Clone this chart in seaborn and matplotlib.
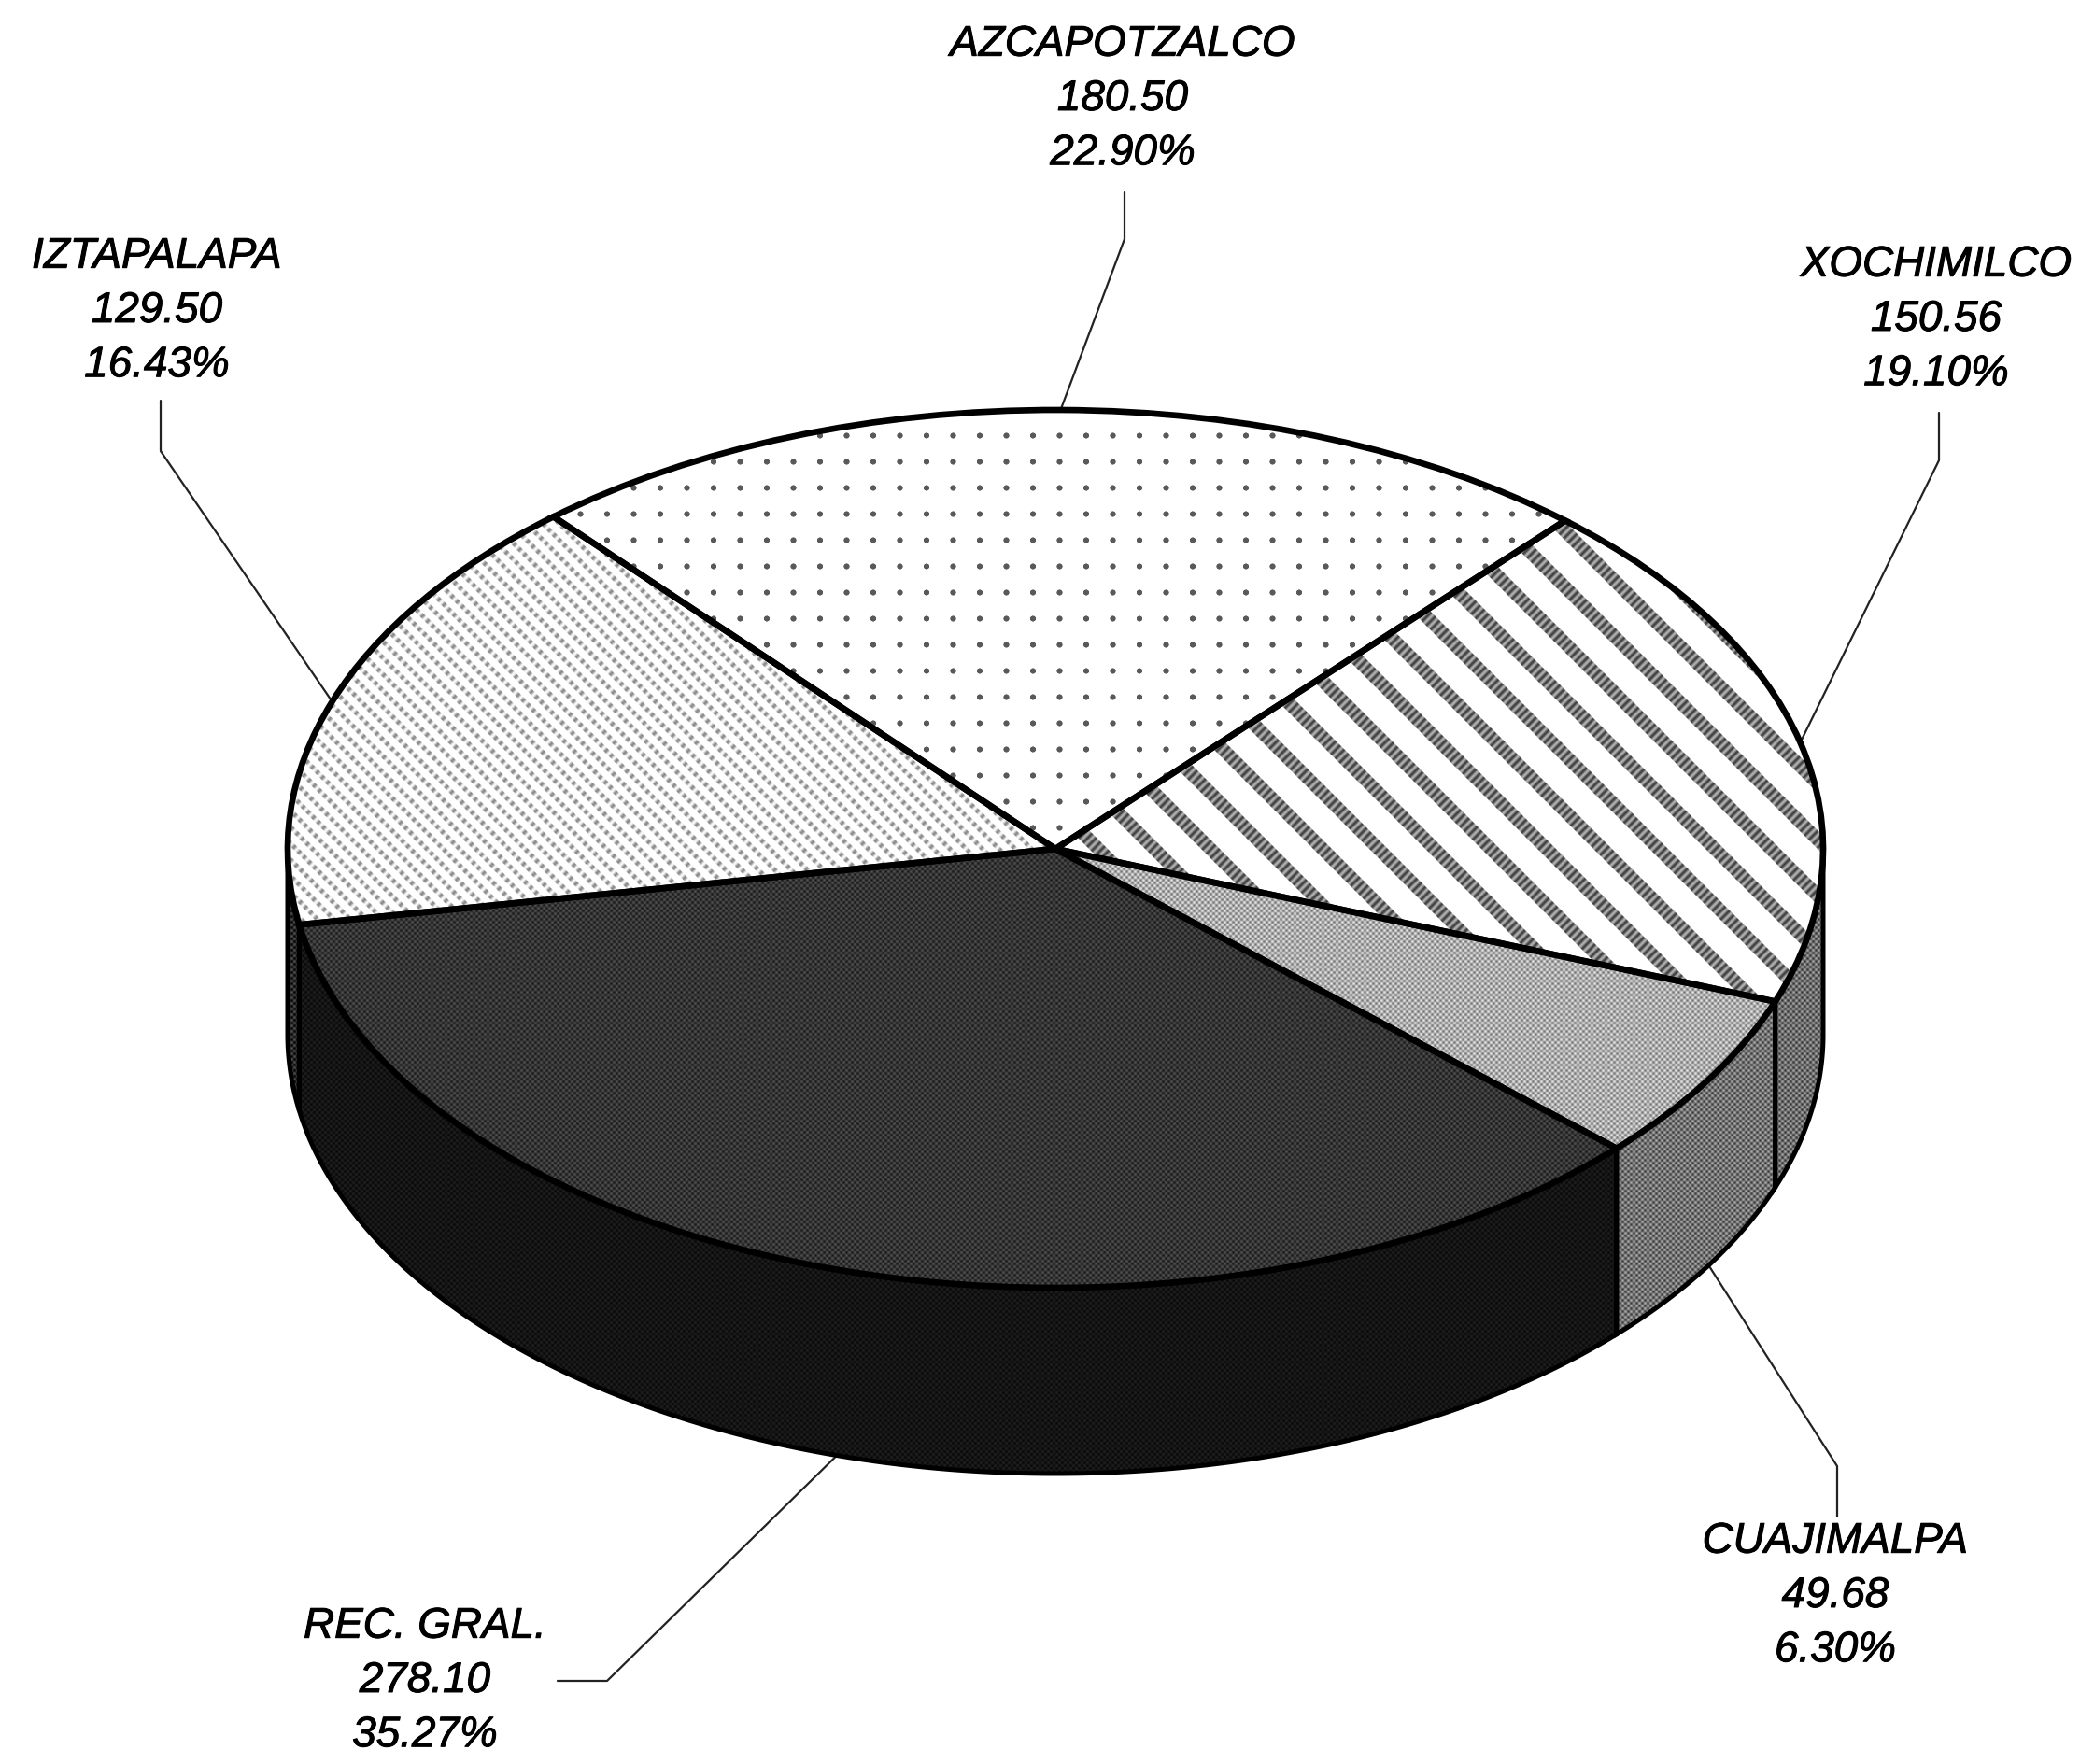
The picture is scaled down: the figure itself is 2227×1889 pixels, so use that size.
import numpy as np
import seaborn as sns
import matplotlib.pyplot as plt
import matplotlib.patheffects as pe
from matplotlib.patches import Polygon

sns.set_style('white')
plt.rcParams['font.family'] = ['Liberation Sans', 'DejaVu Sans']

names = ['AZCAPOTZALCO', 'IZTAPALAPA', 'REC. GRAL.', 'CUAJIMALPA', 'XOCHIMILCO']
values = [180.50, 129.50, 278.10, 49.68, 150.56]
percents = [22.90, 16.43, 35.27, 6.30, 19.10]

W, H = 2227, 1889
CX, CY = 1130, 909     # centre of the top ellipse, px
A, B = 822, 470        # ellipse half axes, px
DEPTH = 199 / B        # wall height in pie units
START = 48.4


def to_data(px, py):
    return (px - CX) / A, (CY - py) / B


yy, xx = np.mgrid[0:H, 0:W].astype(float)


def halftone(level, amp, period=6.0):
    return level + amp * np.cos(2 * np.pi * xx / period) * np.cos(2 * np.pi * yy / period)


def dots():
    a = (xx - 1134) / 57 + (yy - 466) / 56
    b = (xx - 1134) / 57 - (yy - 466) / 56
    d = np.cos(2 * np.pi * a) * np.cos(2 * np.pi * b)
    return 1 - 0.65 * np.clip((d - 0.86) / 0.05, 0, 1)


def stripes(phase, period, width, ink, fine):
    u = ((xx - yy - phase + period / 2) % period) - period / 2
    mask = np.clip((width / 2 - np.abs(u)) / 1.5 + 0.5, 0, 1)
    grain = np.cos(2 * np.pi * (xx + yy) / fine)
    return 1 - mask * (1 - ink + 0.22 * grain)


top_textures = [
    dots(),
    stripes(3, 17.5, 7, 0.76, 11),
    halftone(0.21, 0.11),
    halftone(0.68, 0.22),
    stripes(927, 60, 20, 0.47, 9),
]
wall_textures = [
    None,
    halftone(0.16, 0.16),
    halftone(0.08, 0.05),
    halftone(0.45, 0.22),
    halftone(0.43, 0.22),
]

fig = plt.figure(figsize=(W / 100, H / 100), dpi=100, facecolor='white')
ax = fig.add_axes([0, 0, 1, 1])

wedges, _ = ax.pie(values, startangle=START, counterclock=True, colors=['none'] * 5,
                   wedgeprops=dict(edgecolor='black', linewidth=4.8, zorder=6))
ax.set_aspect('auto')
x0, y1 = to_data(0, 0)
x1, y0 = to_data(W, H)
extent = (x0, x1, y0, y1)

edges = START + np.concatenate([[0], np.cumsum(values)]) / np.sum(values) * 360
mids = (edges[:-1] + edges[1:]) / 2

for wedge, tex in zip(wedges, top_textures):
    im = ax.imshow(tex, extent=extent, cmap='gray', vmin=0, vmax=1, aspect='auto',
                   interpolation='nearest', zorder=3)
    im.set_clip_path(wedge)

# side wall, only the front half of the cylinder shows
for i, tex in enumerate(wall_textures):
    if tex is None:
        continue
    t1, t2 = max(edges[i], 180), min(edges[i + 1], 360)
    t = np.radians(np.linspace(t1, t2, 200))
    upper = np.column_stack([np.cos(t), np.sin(t)])
    lower = np.column_stack([np.cos(t), np.sin(t) - DEPTH])[::-1]
    wall = Polygon(np.vstack([upper, lower]), closed=True, facecolor='none',
                   edgecolor='black', linewidth=3.6, zorder=5)
    ax.add_patch(wall)
    im = ax.imshow(tex, extent=extent, cmap='gray', vmin=0, vmax=1, aspect='auto',
                   interpolation='nearest', zorder=2)
    im.set_clip_path(wall)

# leader lines start from the middle of each slice
elbows = [
    [(1204, 256), (1204, 206)],
    [(172, 483), (172, 429)],
    [(650, 1800), (597, 1800)],
    [(1967, 1570), (1967, 1624)],
    [(2076, 493), (2076, 442)],
]
label_pos = [(1202, 106), (168, 333), (455, 1800), (1965, 1709), (2073, 342)]

for i, mid in enumerate(mids):
    th = np.radians(mid)
    ax0, ay0 = np.cos(th), np.sin(th)
    if np.sin(th) < 0:
        ay0 -= DEPTH
    pts = [(ax0, ay0)] + [to_data(*p) for p in elbows[i]]
    ax.plot([p[0] for p in pts], [p[1] for p in pts], color='#222222', lw=1.6, zorder=1)
    lx, ly = to_data(*label_pos[i])
    ax.text(lx, ly, f'{names[i]}\n{values[i]:.2f}\n{percents[i]:.2f}%', ha='center', va='center',
            style='italic', fontsize=33, linespacing=1.42, color='black',
            path_effects=[pe.withStroke(linewidth=0.7, foreground='black')])

ax.set_xlim(x0, x1)
ax.set_ylim(y0, y1)
ax.axis('off')
sns.despine(ax=ax, left=True, bottom=True)

fig.savefig('out.png', dpi=100, facecolor='white')
